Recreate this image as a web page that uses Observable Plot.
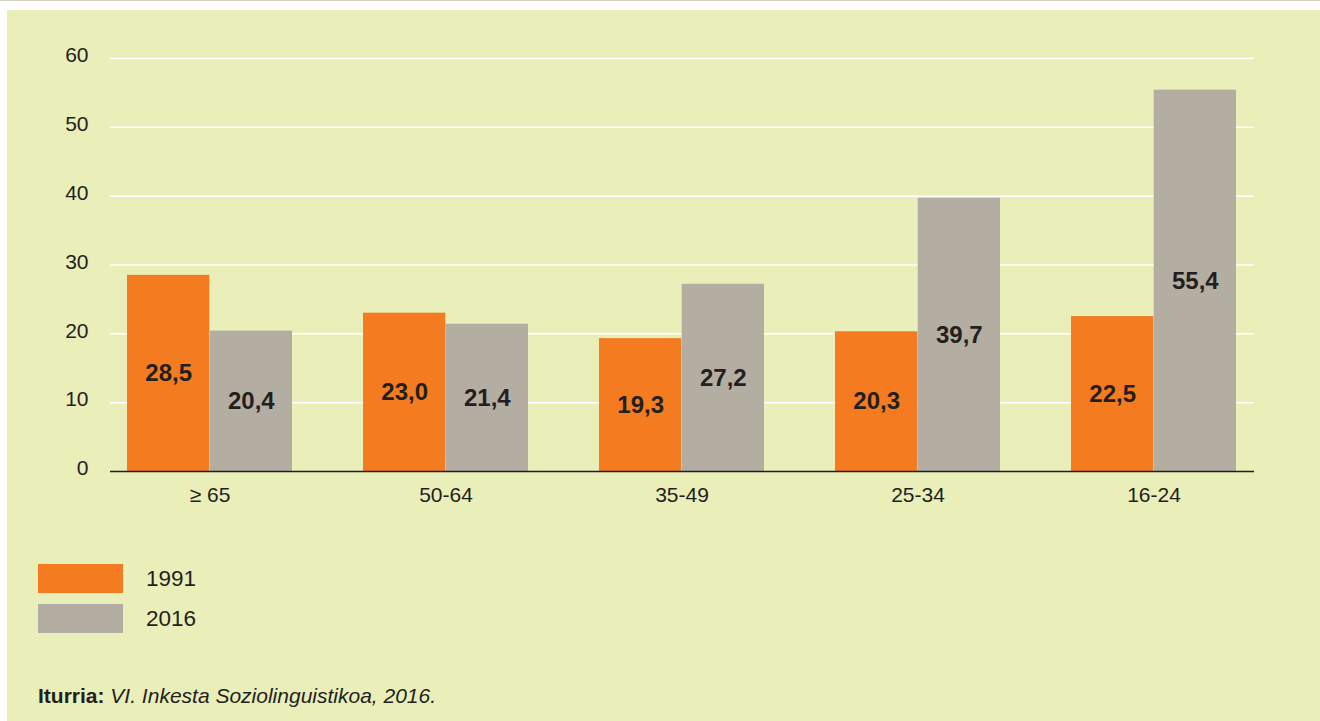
<!DOCTYPE html>
<html>
<head>
<meta charset="utf-8">
<script src="https://cdn.jsdelivr.net/npm/d3@7"></script>
<script src="https://cdn.jsdelivr.net/npm/@observablehq/plot@0.6"></script>
<style>
  html, body { margin: 0; padding: 0; background: #ffffff; width: 1320px; height: 721px; overflow: hidden;
    font-family: "Liberation Sans", Arial, Helvetica, sans-serif; color: #231F20; }
  #topline { position: absolute; left: 0; top: 0; width: 1320px; height: 1px; background: #d6d3c7; }
  #panel { position: absolute; left: 7px; top: 10px; width: 1313px; height: 711px; background: #EAEEB9; }
  #chart { position: absolute; left: 0; top: 0; }
  .sw { position: absolute; left: 38px; width: 85px; height: 29px; }
  .lg { position: absolute; left: 146px; font-size: 22.5px; line-height: 28px; }
  #caption { position: absolute; left: 38px; top: 685px; font-size: 21px; line-height: 21px; white-space: nowrap; }
</style>
</head>
<body>
<div id="topline"></div>
<div id="panel"></div>
<div id="chart"></div>
<div class="sw" id="sw1" style="top:564px"></div>
<div class="lg" id="lg1" style="top:565px"></div>
<div class="sw" id="sw2" style="top:604px"></div>
<div class="lg" id="lg2" style="top:605px"></div>
<div id="caption"><b>Iturria:</b> <i>VI. Inkesta Soziolinguistikoa, 2016.</i></div>
<script>
// ---- data ----
const groups = ["≥ 65", "50-64", "35-49", "25-34", "16-24"];
const years = ["1991", "2016"];
const values1991 = [28.5, 23.0, 19.3, 20.3, 22.5];
const values2016 = [20.4, 21.4, 27.2, 39.7, 55.4];
const yTicks = [0, 10, 20, 30, 40, 50, 60];
const colors = ["#F47B20", "#B3AEA1"];

const rows1991 = groups.map((g, i) => ({group: g, year: years[0], value: values1991[i]}));
const rows2016 = groups.map((g, i) => ({group: g, year: years[1], value: values2016[i]}));

const fmt = d => d3.format(".1f")(d).replace(".", ",");

const W = 1320, H = 530, mL = 110, mR = 66, mT = 58, mB = 59;
const pInner = 0.3, pOuter = 0.071;
const bw = (W - mL - mR) * (1 - pInner) / (groups.length - pInner + 2 * pOuter);
const half = bw / 2;

const chart = Plot.plot({
  width: W, height: H,
  marginLeft: mL, marginRight: mR, marginTop: mT, marginBottom: mB,
  style: {background: "transparent", fontFamily: "'Liberation Sans', Arial, sans-serif", color: "#231F20"},
  x: {domain: groups, paddingInner: pInner, paddingOuter: pOuter, axis: null},
  y: {domain: [0, 60], axis: null},
  marks: [
    Plot.ruleY(yTicks.filter(d => d > 0), {stroke: "#ffffff", strokeWidth: 1.5}),
    Plot.barY(rows1991, {x: "group", y: "value", fill: colors[0], insetRight: half}),
    Plot.barY(rows2016, {x: "group", y: "value", fill: colors[1], insetLeft: half}),
    Plot.ruleY([0], {stroke: "#231F20", strokeWidth: 1.5}),
    Plot.axisY({ticks: yTicks, tickSize: 0, tickPadding: 22, dy: -3, fontSize: 21, label: null}),
    Plot.axisX({tickSize: 0, tickPadding: 16, fontSize: 21, label: null}),
    Plot.text(rows1991, {x: "group", y: d => d.value / 2, text: d => fmt(d.value), dx: -half / 2,
      fontWeight: "bold", fontSize: 24, fill: "#231F20"}),
    Plot.text(rows2016, {x: "group", y: d => d.value / 2, text: d => fmt(d.value), dx: half / 2,
      fontWeight: "bold", fontSize: 24, fill: "#231F20"})
  ]
});
document.getElementById("chart").appendChild(chart);

document.getElementById("sw1").style.background = colors[0];
document.getElementById("sw2").style.background = colors[1];
document.getElementById("lg1").textContent = years[0];
document.getElementById("lg2").textContent = years[1];
</script>
</body>
</html>
